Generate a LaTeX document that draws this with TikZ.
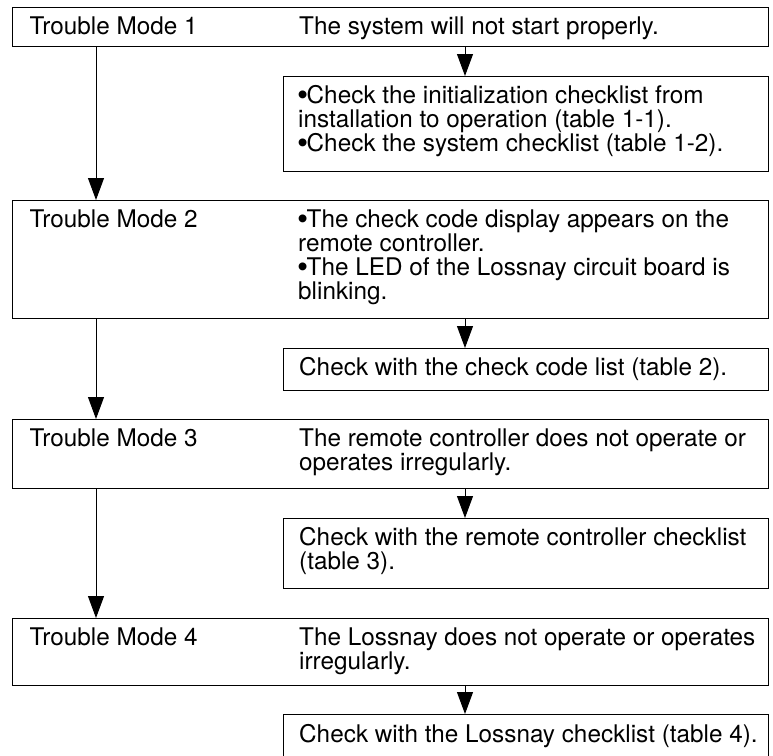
\documentclass[tikz,border=0pt]{standalone}
\usepackage{fontspec}
\setmainfont{TeX Gyre Heros}
\newfontfamily\bulf{Liberation Sans}
\usetikzlibrary{arrows.meta}
\newcommand{\mysz}{\fontsize{24.3pt}{24.2pt}\selectfont}
\newcommand{\blk}[1]{\parbox[t]{468pt}{\mysz\raggedright #1}}
\newcommand{\bul}{\hangindent=8.5pt\hangafter=1 \makebox[8.5pt][l]{\hspace{-0.5pt}\raisebox{-1.3pt}{\bulf\fontsize{29pt}{0pt}\selectfont •}}}
\begin{document}
\begin{tikzpicture}[x=1pt,y=-1pt,
  box/.style={draw=black, line width=1.1pt, rectangle, anchor=north west, inner sep=0pt, minimum width=756pt},
  cbox/.style={draw=black, line width=1.1pt, rectangle, anchor=north west, inner sep=0pt, minimum width=485pt},
  txt/.style={anchor=base west, inner sep=0pt, font=\mysz},
  arr/.style={line width=1pt, -{Triangle[length=22pt,width=16pt]}}]
\useasboundingbox (0,0) rectangle (773,755);
% boxes
\node[box, minimum height=39pt] (m1) at (12,7) {};
\node[cbox, minimum height=95pt] (c1) at (283,76) {};
\node[box, minimum height=118pt] (m2) at (12,200) {};
\node[cbox, minimum height=42pt] (c2) at (283,348) {};
\node[box, minimum height=69pt] (m3) at (12,419) {};
\node[cbox, minimum height=70pt] (c3) at (283,518) {};
\node[box, minimum height=67pt] (m4) at (12,618) {};
\node[cbox, minimum height=43pt] (c4) at (283,714) {};
% texts
\node[txt] (t1) at (29.5,34) {Trouble Mode 1};
\node[txt] (d1) at (299,34) {The system will not start properly.};
\node[txt] (e1) at (298,103) {\blk{\bul Check the initialization checklist from\\installation to operation (table 1-1).\par\bul Check the system checklist (table 1-2).}};
\node[txt] (t2) at (29.5,227) {Trouble Mode 2};
\node[txt] (d2) at (298,227) {\blk{\bul The check code display appears on the\\remote controller.\par\bul The LED of the Lossnay circuit board is\\blinking.}};
\node[txt] (e2) at (299,375) {Check with the check code list (table 2).};
\node[txt] (t3) at (29.5,446) {Trouble Mode 3};
\node[txt] (d3) at (299,446) {\blk{The remote controller does not operate or\\operates irregularly.}};
\node[txt] (e3) at (299,545) {\blk{Check with the remote controller checklist\\(table 3).}};
\node[txt] (t4) at (29.5,645) {Trouble Mode 4};
\node[txt] (d4) at (299,645) {\blk{The Lossnay does not operate or operates\\irregularly.}};
\node[txt] (e4) at (299,742) {Check with the Lossnay checklist (table 4).};
% arrow columns
\coordinate (L) at (96,0);
\coordinate (R) at (465,0);
\draw[arr] (m1.south -| L) -- (m2.north -| L);
\draw[arr] (m2.south -| L) -- (m3.north -| L);
\draw[arr] (m3.south -| L) -- (m4.north -| L);
\draw[arr] (m1.south -| R) -- (c1.north -| R);
\draw[arr] (m2.south -| R) -- (c2.north -| R);
\draw[arr] (m3.south -| R) -- (c3.north -| R);
\draw[arr] (m4.south -| R) -- (c4.north -| R);
\end{tikzpicture}
\end{document}
